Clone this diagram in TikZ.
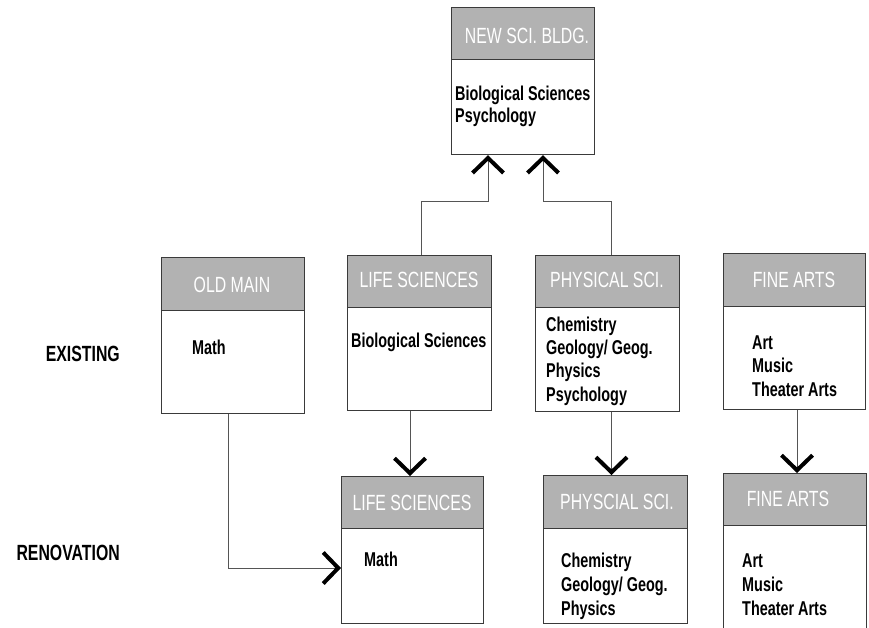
\documentclass[tikz,border=0pt]{standalone}
\usepackage{fontspec}
\setmainfont{Liberation Sans}[FakeStretch=0.72]
\usetikzlibrary{arrows.meta}
\definecolor{hdrgray}{RGB}{178,178,178}
\definecolor{boxc}{RGB}{58,58,58}
\definecolor{connc}{RGB}{85,85,85}
\tikzset{
  box/.style={draw=boxc, line width=1.2pt, fill=white, rectangle, inner sep=0pt, anchor=north west},
  hdr/.style={draw=boxc, line width=1.2pt, fill=hdrgray, rectangle, inner sep=0pt, anchor=north west},
  htext/.style={text=white, inner sep=0pt, anchor=base, font=\fontsize{22}{26}\selectfont},
  btext/.style={inner sep=0pt, anchor=base west, align=left, font=\fontsize{20}{23.5}\selectfont\bfseries},
  ltext/.style={inner sep=0pt, anchor=base east, font=\fontsize{22}{26}\selectfont\bfseries},
  conn/.style={draw=connc, line width=1pt},
  arr/.style={-{Straight Barb[length=15pt, width=31pt, line width=4pt 0, color=black]}}
}
\begin{document}
\begin{tikzpicture}[x=1pt, y=-1pt]
\useasboundingbox[fill=white] (0,0) rectangle (869,628);

% NEW SCI. BLDG.
\node[box, minimum width=143pt, minimum height=147pt] (newsci) at (451,7) {};
\node[hdr, minimum width=143pt, minimum height=52pt] (newsciH) at (newsci.north west) {};
\node[htext] (newsciL) at (527,43.5) {NEW SCI. BLDG.};
\node[btext, font=\fontsize{20}{22.5}\selectfont\bfseries] (newsciT) at (455,123) {Biological Sciences\\Psychology};

% OLD MAIN
\node[box, minimum width=143pt, minimum height=156pt] (oldmain) at (161,257) {};
\node[hdr, minimum width=143pt, minimum height=53pt] (oldmainH) at (oldmain.north west) {};
\node[htext] (oldmainL) at (232,292.5) {OLD MAIN};
\node[btext] (oldmainT) at (192,354) {Math};

% LIFE SCIENCES existing
\node[box, minimum width=144pt, minimum height=155pt] (lifeE) at (347,255) {};
\node[hdr, minimum width=144pt, minimum height=52pt] (lifeEH) at (lifeE.north west) {};
\node[htext] (lifeEL) at (419,287) {LIFE SCIENCES};
\node[btext] (lifeET) at (351,347) {Biological Sciences};

% PHYSICAL SCI. existing
\node[box, minimum width=144pt, minimum height=156pt] (physE) at (535,255) {};
\node[hdr, minimum width=144pt, minimum height=52pt] (physEH) at (physE.north west) {};
\node[htext] (physEL) at (607,287) {PHYSICAL SCI.};
\node[btext, font=\fontsize{20}{23.3}\selectfont\bfseries] (physET) at (546,401) {Chemistry\\Geology/ Geog.\\Physics\\Psychology};

% FINE ARTS existing
\node[box, minimum width=142pt, minimum height=156pt] (fineE) at (723,253) {};
\node[hdr, minimum width=142pt, minimum height=53pt] (fineEH) at (fineE.north west) {};
\node[htext] (fineEL) at (794,287) {FINE ARTS};
\node[btext, font=\fontsize{20}{23.3}\selectfont\bfseries] (fineET) at (752,396) {Art\\Music\\Theater Arts};

% LIFE SCIENCES renovation
\node[box, minimum width=142pt, minimum height=147pt] (lifeR) at (341,476) {};
\node[hdr, minimum width=142pt, minimum height=52pt] (lifeRH) at (lifeR.north west) {};
\node[htext] (lifeRL) at (412,510) {LIFE SCIENCES};
\node[btext] (lifeRT) at (364,566.7) {Math};

% PHYSCIAL SCI. renovation
\node[box, minimum width=144pt, minimum height=148pt] (physR) at (543,475) {};
\node[hdr, minimum width=144pt, minimum height=53pt] (physRH) at (physR.north west) {};
\node[htext] (physRL) at (617,509.5) {PHYSCIAL SCI.};
\node[btext, font=\fontsize{20}{23.8}\selectfont\bfseries] (physRT) at (561,615) {Chemistry\\Geology/ Geog.\\Physics};

% FINE ARTS renovation
\node[box, minimum width=143pt, minimum height=190pt] (fineR) at (723,473) {};
\node[hdr, minimum width=143pt, minimum height=52pt] (fineRH) at (fineR.north west) {};
\node[htext] (fineRL) at (788,506.5) {FINE ARTS};
\node[btext, font=\fontsize{20}{23.8}\selectfont\bfseries] (fineRT) at (742,615) {Art\\Music\\Theater Arts};

% row labels
\node[ltext] (exist) at (120,361.5) {EXISTING};
\node[ltext] (renov) at (120,560) {RENOVATION};

% connectors
\coordinate (j1) at (421,202);
\coordinate (j2) at (488,202);
\coordinate (j3) at (611,202);
\coordinate (j4) at (543,202);
\coordinate (k1) at (228,568);
\coordinate (lx) at (410,0);
\coordinate (px) at (611.5,0);
\coordinate (fx) at (797,0);

\draw[conn, arr] (lifeE.north -| j1) -- (j1) -- (j2) -- (newsci.south -| j2);
\draw[conn, arr] (physE.north -| j3) -- (j3) -- (j4) -- (newsci.south -| j4);
\draw[conn, arr] (oldmain.south -| k1) -- (k1) -- (lifeR.west |- k1);
\draw[conn, arr] (lifeE.south -| lx) -- (lifeR.north -| lx);
\draw[conn, arr] (physE.south -| px) -- (physR.north -| px);
\draw[conn, arr] (fineE.south -| fx) -- (fineR.north -| fx);
\end{tikzpicture}
\end{document}
